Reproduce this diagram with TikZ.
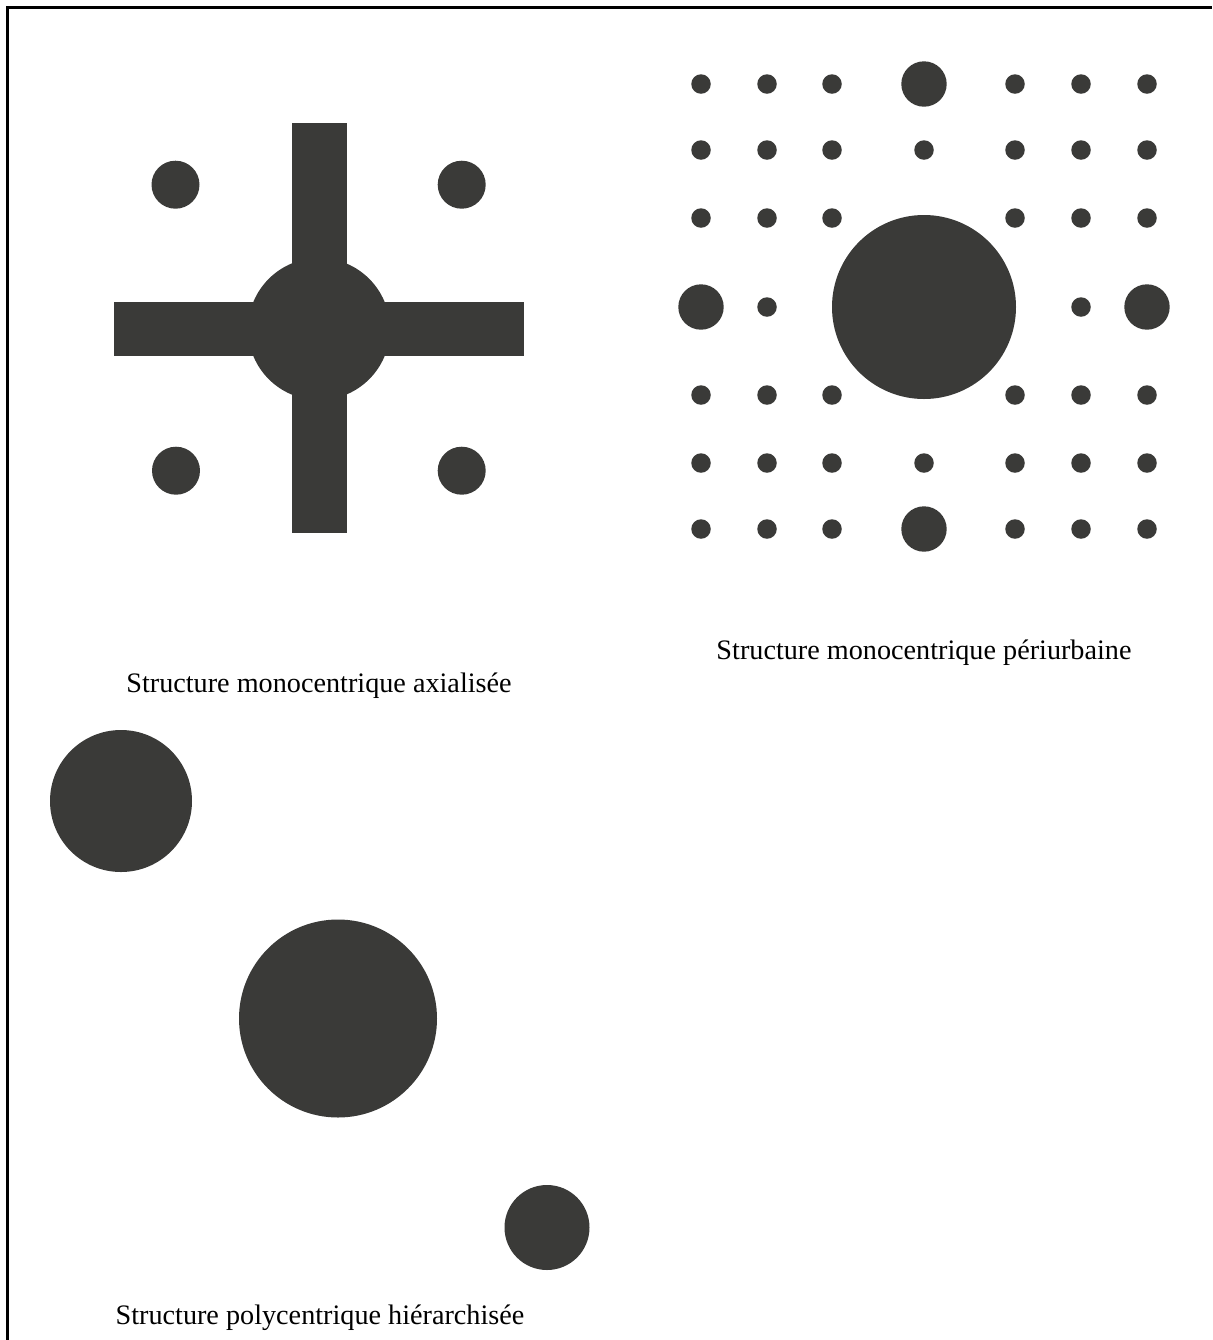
\documentclass[tikz,border=0pt]{standalone}
\usepackage{fontspec}
\setmainfont{Liberation Serif}
\usepackage{tikz}
\usetikzlibrary{positioning}
\definecolor{urban}{RGB}{58,58,56}

\begin{document}
\begin{tikzpicture}[x=0.5pt, y=-0.5pt,
  city/.style={circle, fill=urban, inner sep=0pt, minimum size=#1},
  bar/.style={fill=urban},
  lbl/.style={anchor=base, font=\fontsize{14.1}{17}\selectfont, inner sep=0pt}]
\useasboundingbox (0,0) rectangle (1212,1340);
\draw[line width=1.25pt] (7.7,1340) -- (7.7,7.7) -- (1212,7.7);

% axialisee
\fill[bar] (291.7,123) rectangle (346.7,533);
\fill[bar] (114,301.7) rectangle (524,356);
\node[city=71pt] (hub) at (319,329) {};
\node[city=24pt] (ax1) at (175.5,184.7) {};
\node[city=24pt] (ax2) at (461.7,184.7) {};
\node[city=24pt] (ax3) at (176,470.7) {};
\node[city=24pt] (ax4) at (461.7,470.7) {};
\node[lbl] (tax) at (319,692) {Structure monocentrique axialisée};

% periurbaine
\foreach \c/\x in {1/701,2/767,3/832,5/1015,6/1081,7/1147}
  \foreach \r/\y in {1/84,2/150,3/218,5/395,6/463,7/529}
    \node[city=9.75pt] (p\c\r) at (\x,\y) {};
\node[city=9.75pt] (p42) at (924,150) {};
\node[city=9.75pt] (p46) at (924,463) {};
\node[city=9.75pt] (p24) at (767,307) {};
\node[city=9.75pt] (p64) at (1081,307) {};
\node[city=22.7pt] (p41) at (924,84) {};
\node[city=22.7pt] (p47) at (924,529) {};
\node[city=22.7pt] (p14) at (701,307) {};
\node[city=22.7pt] (p74) at (1147,307) {};
\node[city=92pt] (core) at (924,307) {};
\node[lbl] (tpe) at (924,659) {Structure monocentrique périurbaine};

% polycentrique
\node[city=71pt] (pol1) at (121,801) {};
\node[city=99pt] (pol2) at (338,1018.5) {};
\node[city=42.5pt] (pol3) at (547,1227.5) {};
\node[lbl] (tpo) at (320,1324) {Structure polycentrique hiérarchisée};
\end{tikzpicture}
\end{document}
